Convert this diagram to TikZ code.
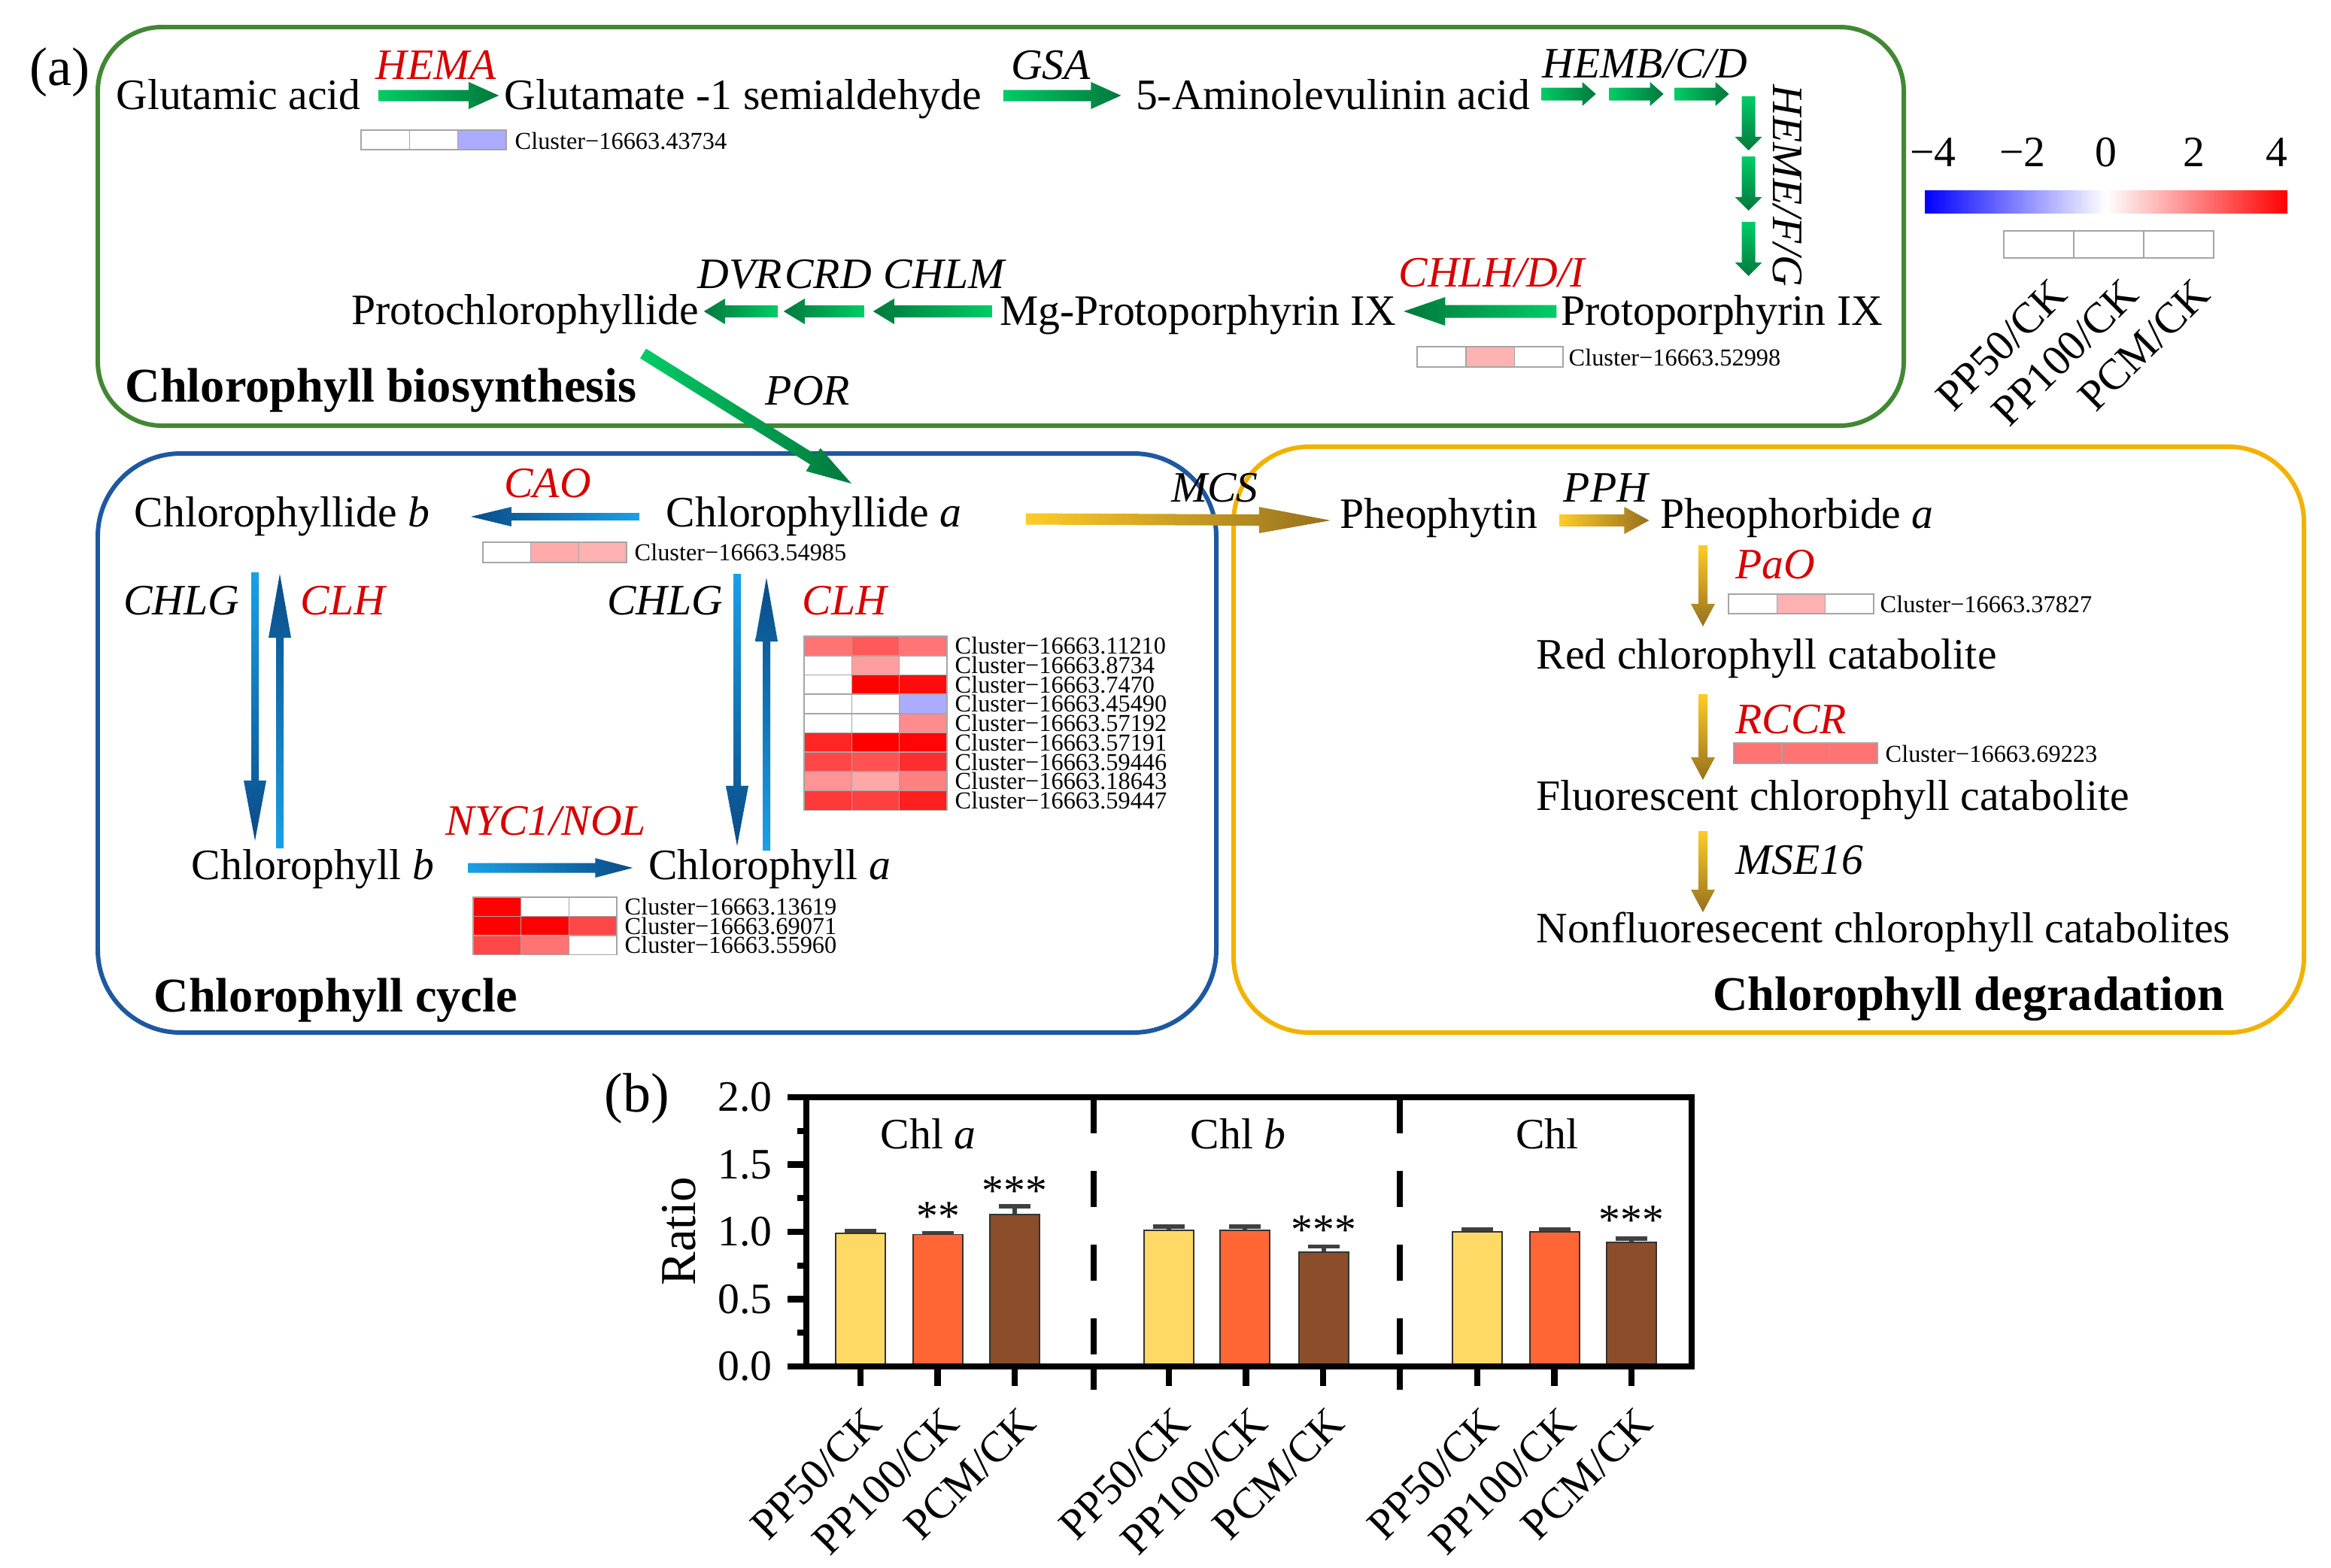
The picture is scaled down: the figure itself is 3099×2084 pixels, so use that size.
\documentclass[tikz,border=0pt]{standalone}
\usepackage{fontspec}
\setmainfont{Liberation Serif}
\usetikzlibrary{calc}

\definecolor{glight}{RGB}{0,204,102}
\definecolor{gdark}{RGB}{0,120,60}
\definecolor{blight}{RGB}{26,160,230}
\definecolor{bdark}{RGB}{10,75,135}
\definecolor{olight}{RGB}{255,204,40}
\definecolor{odark}{RGB}{150,112,30}
\definecolor{boxgreen}{RGB}{66,136,52}
\definecolor{boxblue}{RGB}{30,88,160}
\definecolor{boxorange}{RGB}{242,178,0}
\definecolor{genered}{RGB}{215,0,0}
\definecolor{cellgray}{RGB}{165,165,165}
\definecolor{barY}{RGB}{255,217,102}
\definecolor{barO}{RGB}{255,102,51}
\definecolor{barB}{RGB}{140,77,42}

\newcommand{\mainsize}{\fontsize{16.4}{19}\selectfont}
\newcommand{\clsize}{\fontsize{9.2}{10}\selectfont}

\tikzset{
  cmp/.style={font=\mainsize, inner sep=0pt, anchor=base},
  gene/.style={cmp, font=\mainsize\itshape},
  rgene/.style={gene, text=genered},
  ttl/.style={cmp, font=\fontsize{18.3}{21}\selectfont\bfseries},
  clab/.style={font=\clsize, inner sep=0pt, anchor=west},
  hcell/.style={draw=cellgray, line width=0.45pt},
  boxline/.style={line width=1.7pt, rounded corners=#1},
  gR/.style={left color=glight, right color=gdark},
  gL/.style={left color=gdark, right color=glight},
  gD/.style={top color=glight, bottom color=gdark},
  bL/.style={left color=bdark, right color=blight},
  bR/.style={left color=blight, right color=bdark},
  bD/.style={top color=blight, bottom color=bdark},
  bU/.style={top color=bdark, bottom color=blight},
  oR/.style={left color=olight, right color=odark},
  oD/.style={top color=olight, bottom color=odark},
  axisline/.style={line width=2.4pt},
  errbar/.style={draw=black!75, line width=1.5pt},
}

% block arrow: style, tail, tip, shaft half width, head half width, head length
\newcommand{\blockarrow}[6]{%
  \path #2 coordinate (ba-s) #3 coordinate (ba-e);
  \coordinate (ba-b) at ($(ba-e)!#6!(ba-s)$);
  \shade[#1] ($(ba-s)!#4!90:(ba-e)$) -- ($(ba-b)!#4!90:(ba-e)$) -- ($(ba-b)!#5!90:(ba-e)$)
    -- (ba-e) -- ($(ba-b)!#5!-90:(ba-e)$) -- ($(ba-b)!#4!-90:(ba-e)$) -- ($(ba-s)!#4!-90:(ba-e)$) -- cycle;
}
% one heat-map row: x, y of top-left corner, cell width, cell height, colours
\newcommand{\heatrow}[5]{%
  \foreach \hc [count=\i from 0] in {#5}
    {\draw[hcell, fill=\hc] ({#1+\i*#3},#2) rectangle +(#3,#4);}
}

\begin{document}
\begin{tikzpicture}[x=0.01cm, y=-0.01cm]
\useasboundingbox (0,0) rectangle (3099,2084);

% panel frames
\draw[boxline=0.85cm, boxgreen] (130,36) rectangle (2531,566);
\draw[boxline=1.1cm, boxblue] (130,603) rectangle (1617,1373);
\draw[boxline=1cm, boxorange] (1640,594) rectangle (3063,1373);

\node[cmp, font=\fontsize{20.5}{24}\selectfont, anchor=base west] (pa) at (39,113) {(a)};

% chlorophyll biosynthesis
\node[cmp] (glu) at (317,145) {Glutamic acid};
\node[cmp] (gsa) at (988,145) {Glutamate -1 semialdehyde};
\node[cmp] (ala) at (1772,145) {5-Aminolevulinin acid};
\node[cmp] (proto) at (2289,432) {Protoporphyrin IX};
\node[cmp] (mgp) at (1593,432) {Mg-Protoporphyrin IX};
\node[cmp] (pchlide) at (698,431) {Protochlorophyllide};
\node[ttl, anchor=base west] (tbio) at (166,534) {Chlorophyll biosynthesis};

\node[rgene] (hema) at (580,105) {HEMA};
\node[gene] (gsagene) at (1397,105) {GSA};
\node[gene] (hemb) at (2187,103) {HEMB/C/D};
\node[gene, rotate=-90, anchor=center] (heme) at (2376,247) {HEME/F/G};
\node[rgene] (chlh) at (1983,381) {CHLH/D/I};
\node[gene] (chlm) at (1255,383) {CHLM};
\node[gene] (crd) at (1101,383) {CRD};
\node[gene] (dvr) at (984,383) {DVR};
\node[gene] (por) at (1074,538) {POR};

% chlorophyll cycle
\node[cmp] (chlideb) at (375,700) {Chlorophyllide \textit{b}};
\node[cmp] (chlidea) at (1082,700) {Chlorophyllide \textit{a}};
\node[cmp] (chlb) at (416,1169) {Chlorophyll \textit{b}};
\node[cmp] (chla) at (1023,1169) {Chlorophyll \textit{a}};
\node[ttl, anchor=base west] (tcyc) at (204,1345) {Chlorophyll cycle};
\node[rgene] (cao) at (728,661) {CAO};
\node[gene] (chlg1) at (241,817) {CHLG};
\node[rgene] (clh1) at (456,817) {CLH};
\node[gene] (chlg2) at (884,817) {CHLG};
\node[rgene] (clh2) at (1123,817) {CLH};
\node[rgene] (nyc) at (726,1110) {NYC1/NOL};

% chlorophyll degradation
\node[cmp] (pheo) at (1913,702) {Pheophytin};
\node[cmp] (pheide) at (2389,702) {Pheophorbide \textit{a}};
\node[cmp, anchor=base west] (rcc) at (2042,889) {Red chlorophyll catabolite};
\node[cmp, anchor=base west] (fcc) at (2042,1077) {Fluorescent chlorophyll catabolite};
\node[cmp, anchor=base west] (ncc) at (2042,1253) {Nonfluoresecent chlorophyll catabolites};
\node[ttl, anchor=base east] (tdeg) at (2958,1343) {Chlorophyll degradation};
\node[gene] (mcs) at (1615,667) {MCS};
\node[gene] (pph) at (2135,667) {PPH};
\node[rgene, anchor=base west] (pao) at (2307,769) {PaO};
\node[rgene, anchor=base west] (rccr) at (2307,975) {RCCR};
\node[gene, anchor=base west] (mse) at (2307,1162) {MSE16};

% green arrows
\blockarrow{gR}{($(glu.base east)+(23,-18)$)}{($(gsa.base west)+(-7,-18)$)}{0.075cm}{0.18cm}{0.4cm}
\blockarrow{gR}{($(gsa.base east)+(28,-18)$)}{($(ala.base west)+(-19,-18)$)}{0.075cm}{0.18cm}{0.4cm}
\foreach \s in {15,105,192}
  {\blockarrow{gR}{($(ala.base east)+(\s,-20)$)}{($(ala.base east)+(\s+72,-20)$)}{0.085cm}{0.16cm}{0.18cm}}
\coordinate (hemetop) at ($(ala.base east)+(290,-17)$);
\foreach \t in {0,80,167}
  {\blockarrow{gD}{($(hemetop)+(0,\t)$)}{($(hemetop)+(0,\t+72)$)}{0.09cm}{0.18cm}{0.18cm}}
\blockarrow{gL}{($(proto.base west)+(-5,-18)$)}{($(mgp.base east)+(9,-18)$)}{0.085cm}{0.19cm}{0.55cm}
\foreach \s/\e in {10/168,180/287,295/393}
  {\blockarrow{gL}{($(mgp.base west)+(-\s,-18)$)}{($(mgp.base west)+(-\e,-18)$)}{0.08cm}{0.17cm}{0.28cm}}
\blockarrow{gR}{($(pchlide.base)+(157,39)$)}{($(chlidea.base)+(50,-57)$)}{0.075cm}{0.18cm}{0.6cm}

% blue arrows
\blockarrow{bL}{($(chlidea.base west)+(-35,-13)$)}{($(chlideb.base east)+(54,-13)$)}{0.05cm}{0.13cm}{0.54cm}
\blockarrow{bR}{($(chlb.base east)+(45,-15)$)}{($(chla.base west)+(-20,-15)$)}{0.065cm}{0.13cm}{0.5cm}
\blockarrow{bD}{($(chlideb.base)+(-36,61)$)}{($(chlb.base)+(-77,-51)$)}{0.05cm}{0.15cm}{0.8cm}
\blockarrow{bU}{($(chlb.base)+(-44,-41)$)}{($(chlideb.base)+(-3,63)$)}{0.05cm}{0.15cm}{0.85cm}
\blockarrow{bD}{($(chlidea.base)+(-102,63)$)}{($(chla.base)+(-43,-44)$)}{0.05cm}{0.15cm}{0.8cm}
\blockarrow{bU}{($(chla.base)+(-4,-38)$)}{($(chlidea.base)+(-63,68)$)}{0.05cm}{0.15cm}{0.85cm}

% orange arrows
\blockarrow{oR}{($(chlidea.base east)+(85,-10)$)}{($(pheo.base west)+(-12,-10)$)}{0.075cm}{0.175cm}{0.95cm}
\blockarrow{oR}{($(pheo.base east)+(28,-10)$)}{($(pheide.base west)+(-14,-10)$)}{0.08cm}{0.18cm}{0.33cm}
\blockarrow{oD}{($(pheide.base)+(-125,23)$)}{($(rcc.base west)+(222,-56)$)}{0.06cm}{0.16cm}{0.3cm}
\blockarrow{oD}{($(rcc.base west)+(222,34)$)}{($(fcc.base west)+(222,-40)$)}{0.06cm}{0.16cm}{0.3cm}
\blockarrow{oD}{($(fcc.base west)+(222,28)$)}{($(ncc.base west)+(222,-40)$)}{0.06cm}{0.16cm}{0.3cm}

% heat maps
\heatrow{480}{173}{64.3}{26}{white,white,blue!33}
\node[clab] (cl43734) at (684,187) {Cluster−16663.43734};
\heatrow{1884}{461}{64.7}{27}{white,red!30,white}
\node[clab] (cl52998) at (2085,475) {Cluster−16663.52998};
\heatrow{642}{721}{63.7}{27}{white,red!33,red!30}
\node[clab] (cl54985) at (843,734) {Cluster−16663.54985};
\heatrow{2298}{790}{64.3}{26}{white,red!30,white}
\node[clab] (cl37827) at (2499,803) {Cluster−16663.37827};
\heatrow{2305}{988}{63.7}{27}{red!55,red!55,red!55}
\node[clab] (cl69223) at (2506,1002) {Cluster−16663.69223};

\foreach \ra/\rb/\rc [count=\r from 0] in {red!55/red!65/red!54, white/red!38/white, white/red/red!95,
    white/white/blue!33, white/white/red!45, red!85/red/red!98, red!72/red!68/red!82,
    red!42/red!34/red!50, red!78/red!75/red!88}
  {\heatrow{1069}{846+25.7*\r}{63.3}{25.7}{\ra,\rb,\rc}}
\foreach \id [count=\r from 0] in {11210,8734,7470,45490,57192,57191,59446,18643,59447}
  {\node[clab] (cl\id) at (1269,{858.85+25.7*\r}) {Cluster−16663.\id};}

\foreach \ra/\rb/\rc [count=\r from 0] in {red/white/white, red/red/red!72, red!72/red!55/white}
  {\heatrow{629}{1193+25.5*\r}{63.7}{25.5}{\ra,\rb,\rc}}
\foreach \id [count=\r from 0] in {13619,69071,55960}
  {\node[clab] (cl\id) at (830,{1205.75+25.5*\r}) {Cluster−16663.\id};}

% colour key
\shade[left color=blue, right color=red, middle color=white] (2559,253) rectangle (3041,283);
\foreach \lx/\lv [count=\i] in {2570/−4, 2689/−2, 2800/0, 2917/2, 3027/4}
  {\node[cmp] (key\i) at (\lx,221) {\lv};}
\heatrow{2664}{307}{93}{36}{white,white,white}
\foreach \lab [count=\k from 0] in {PP50/CK,PP100/CK,PCM/CK}
  {\node[cmp, rotate=45, anchor=north east] (keylab\k) at ({2724+95*\k},367) {\lab};}

% (b) bar chart
\node[cmp, font=\fontsize{21}{24}\selectfont, anchor=base west] (pb) at (803,1478) {(b)};
\node[cmp, font=\fontsize{19}{22}\selectfont, rotate=90, anchor=center] (ratio) at (903,1637) {Ratio};

\foreach \bx/\bv/\be/\bc in {1144/0.99/1.01/barY, 1247/0.98/0.99/barO, 1349/1.13/1.19/barB,
    1554/1.01/1.04/barY, 1655/1.01/1.04/barO, 1760/0.85/0.89/barB,
    1964/1.00/1.02/barY, 2067/1.00/1.02/barO, 2169/0.92/0.95/barB} {
  \draw[errbar] (\bx,{1817-179*\bv}) -- (\bx,{1817-179*\be});
  \draw[errbar] ({\bx-21},{1817-179*\be}) -- ({\bx+21},{1817-179*\be});
  \filldraw[fill=\bc, draw=black!80, line width=0.5pt] ({\bx-33},1817) rectangle ({\bx+33},{1817-179*\bv});
}

\draw[axisline] (1072,1459) rectangle (2249,1817);
\foreach \v [count=\i] in {0.0,0.5,1.0,1.5,2.0} {
  \draw[axisline] (1047,{1817-179*\v}) -- (1072,{1817-179*\v});
  \node[cmp, anchor=east] (ytick\i) at (1027,{1817-179*\v}) {\v};
}
\foreach \v in {0.25,0.75,1.25,1.75}
  {\draw[axisline] (1060,{1817-179*\v}) -- (1072,{1817-179*\v});}
\foreach \sx in {1454,1861} {
  \draw[axisline, dash pattern=on 0.48cm off 0.5cm] (\sx,1459) -- (\sx,1805);
  \draw[axisline] (\sx,1817) -- (\sx,1848);
}
\foreach \gx [count=\g] in {1144,1554,1964}
  \foreach \lab [count=\k from 0] in {PP50/CK,PP100/CK,PCM/CK} {
    \draw[axisline] ({\gx+102.5*\k},1817) -- ({\gx+102.5*\k},1843);
    \node[cmp, rotate=45, anchor=north east] (xl\g\k) at ({\gx+102.5*\k+4},1868) {\lab};
  }

\node[cmp] (gchla) at (1234,1527) {Chl \textit{a}};
\node[cmp] (gchlb) at (1646,1527) {Chl \textit{b}};
\node[cmp] (gchl) at (2057,1527) {Chl};
\node[cmp] (sig2) at (1247,1636) {**};
\node[cmp] (sig3) at (1349,1602) {***};
\node[cmp] (sig6) at (1760,1654) {***};
\node[cmp] (sig9) at (2169,1641) {***};
\end{tikzpicture}
\end{document}
